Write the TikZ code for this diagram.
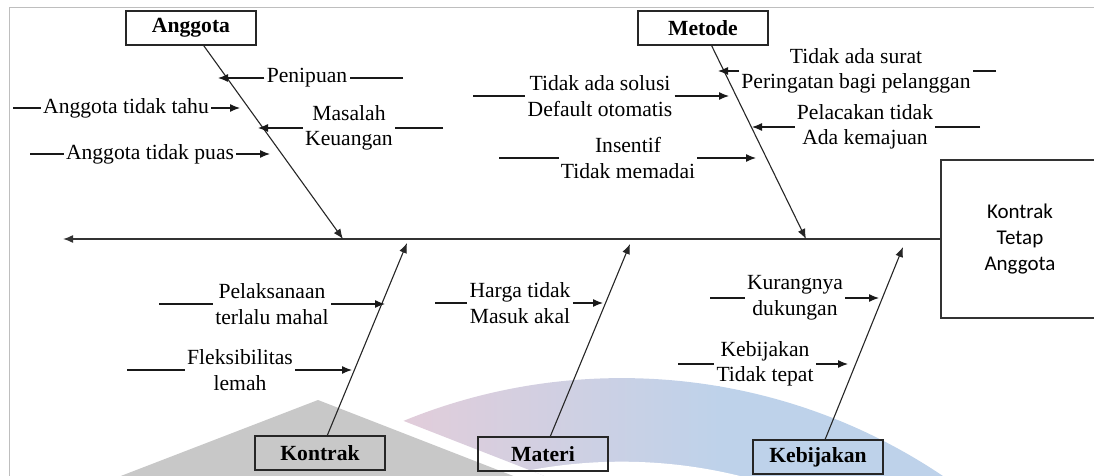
\documentclass[tikz,border=0pt]{standalone}
\usepackage{fontspec}
\setmainfont{Liberation Serif}
\newfontfamily\headfont{Carlito}
\usetikzlibrary{arrows.meta,positioning}

\definecolor{wmgray}{RGB}{200,200,200}
\definecolor{wmpink}{RGB}{226,205,218}
\definecolor{wmblue}{RGB}{190,210,234}
\definecolor{framegray}{RGB}{190,190,190}

\newcommand{\causefont}{\fontsize{10.8}{12.8}\selectfont}

\tikzset{
  >={Latex[length=5pt,width=4pt]},
  catbox/.style={draw=black!85,line width=0.9pt,minimum width=65pt,minimum height=17pt,
    inner sep=0pt,font=\causefont\bfseries},
  effectbox/.style={draw=black!80,line width=0.9pt,minimum width=79pt,minimum height=79pt,
    align=center,font=\headfont\fontsize{10.5}{13}\selectfont},
  cause/.style={align=center,inner sep=1pt},
  twig/.style={line width=0.6pt,black!90},
  bone/.style={line width=0.55pt,black!85,->},
  spine/.style={line width=0.75pt,black!80,->}
}

\begin{document}
\begin{tikzpicture}[x=0.5pt,y=-0.5pt,font=\causefont]
\clip (0,0) rectangle (1094,476);

% watermark behind the diagram
\begin{scope}
  \clip (304,382) -- (560,482) -- (1100,482) -- (1100,300) -- (304,300) -- cycle;
  \clip (621.7,953.7) circle[radius=575.6];
  \shade[left color=wmpink,right color=wmblue] (400,370) rectangle (720,480);
  \fill[wmblue] (719,370) rectangle (1100,480);
  \fill[white] (621.7,953.7) circle[radius=492];
\end{scope}
\fill[wmgray] (318,400) -- (100,484) -- (534,484) -- cycle;

% frame
\draw[framegray,line width=0.5pt] (9,476) -- (9,8) -- (1094,8);

% head and spine
\node[effectbox] (effect) at (1020,239) {Kontrak\\Tetap\\Anggota};
\coordinate (tail) at (63,239);
\draw[spine] (effect.west) -- (tail);

% categories
\node[catbox] (anggota) at (191,28) {Anggota};
\node[catbox] (metode) at (703,28) {Metode};
\node[catbox] (kontrak) at (320,453) {Kontrak};
\node[catbox] (materi) at (543,454) {Materi};
\node[catbox] (kebijakan) at (818,457) {Kebijakan};

\coordinate (anggota-end) at (343,239);
\coordinate (metode-end) at (806,239);
\coordinate (kontrak-end) at (407,243);
\coordinate (materi-end) at (630,244);
\coordinate (kebijakan-end) at (903,247);

\foreach \c in {anggota,metode,kontrak,materi,kebijakan}
  \draw[bone] (\c) -- (\c-end);

% causes fed from the left
\foreach \n/\x/\y/\txt/\xa/\xb in {
  tahu/126/108/{Anggota tidak tahu}/13/240,
  puas/150/154/{Anggota tidak puas}/30/270,
  solusi/600/96/{Tidak ada solusi\\Default otomatis}/473/729,
  insentif/628/158/{Insentif\\Tidak memadai}/499/756,
  pelaksanaan/272/304/{Pelaksanaan\\terlalu mahal}/159/385,
  fleksibel/240/370/{Fleksibilitas\\lemah}/127/352,
  harga/520/303/{Harga tidak\\Masuk akal}/435/603,
  dukungan/795/298/{Kurangnya\\dukungan}/710/879,
  tepat/765/364/{Kebijakan\\Tidak tepat}/678/848}
{
  \node[cause] (\n) at (\x,\y) {\txt};
  \coordinate (\n-in) at (\xa,\y);
  \coordinate (\n-tip) at (\xb,\y);
  \draw[twig] (\n-in) -- (\n);
  \draw[twig,->] (\n) -- (\n-tip);
}

% causes fed from the right
\foreach \n/\x/\y/\txt/\xa/\xb in {
  penipuan/307/78/{Penipuan}/403/218,
  masalah/349/128/{Masalah\\Keuangan}/443/258,
  surat/856/71/{Tidak ada surat\\Peringatan bagi pelanggan}/996/718,
  pelacakan/865/127/{Pelacakan tidak\\Ada kemajuan}/980/752}
{
  \node[cause] (\n) at (\x,\y) {\txt};
  \coordinate (\n-in) at (\xa,\y);
  \coordinate (\n-tip) at (\xb,\y);
  \draw[twig] (\n-in) -- (\n);
  \draw[twig,->] (\n) -- (\n-tip);
}
\end{tikzpicture}
\end{document}
